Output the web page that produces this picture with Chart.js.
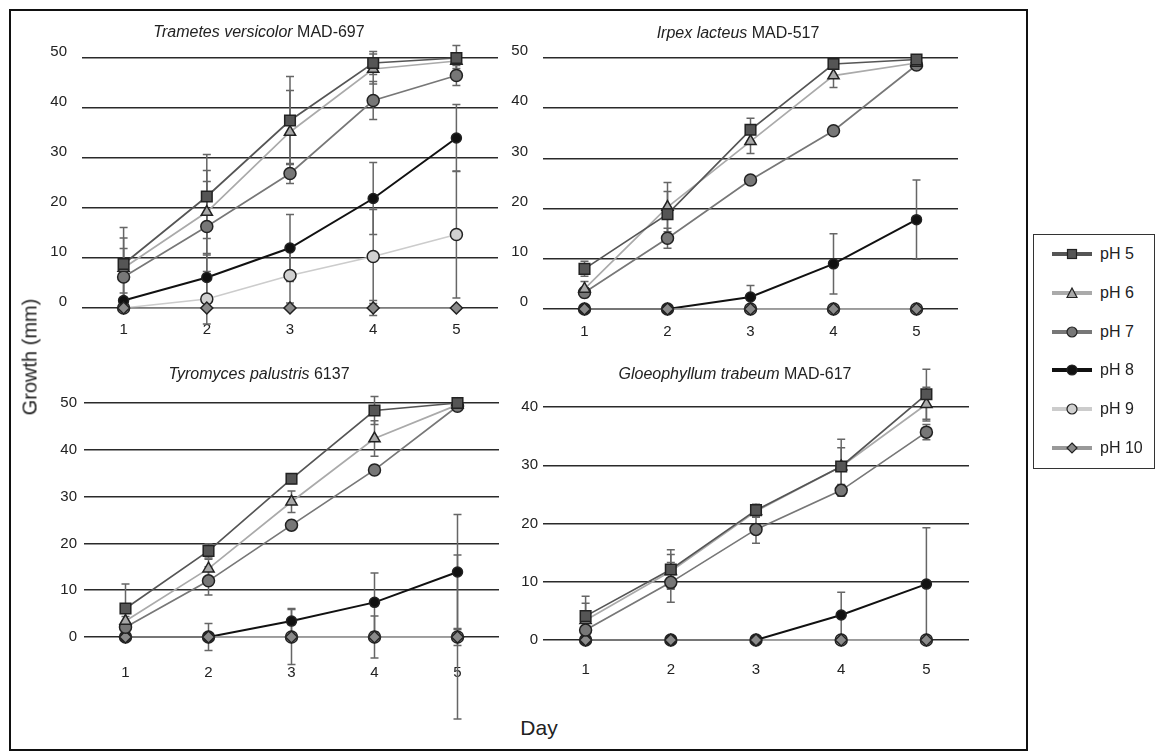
<!DOCTYPE html>
<html>
<head>
<meta charset="utf-8">
<script src="https://cdn.jsdelivr.net/npm/chart.js@4.4.0/dist/chart.umd.min.js"></script>
<style>
body { margin: 0; background: #fff; font-family: "Liberation Sans", Arial, sans-serif; color: #222; }
#page { position: relative; width: 1156px; height: 752px; overflow: hidden; }
#frame { position: absolute; left: 9px; top: 9px; width: 1019px; height: 742px; border: 2px solid #111; box-sizing: border-box; }
canvas { position: absolute; }
.ttl { position: absolute; font-size: 16px; white-space: nowrap; transform: translate(-50%, -50%); }
.axt { position: absolute; font-size: 20px; white-space: nowrap; transform: translate(-50%, -50%); }
#legend { position: absolute; left: 1033px; top: 234px; width: 122px; height: 235px; border: 1.5px solid #333; box-sizing: border-box; }
.li { position: absolute; left: 18px; height: 20px; display: flex; align-items: center; font-size: 16px; }
.li svg { margin-right: 8px; }
</style>
</head>
<body>
<div id="page">
  <div id="frame"></div>

  <canvas id="c1" width="490" height="335" style="left:10px;top:10px"></canvas>
  <canvas id="c2" width="460" height="336" style="left:500px;top:10px"></canvas>
  <canvas id="c3" width="490" height="392" style="left:10px;top:350px"></canvas>
  <canvas id="c4" width="470" height="340" style="left:500px;top:350px"></canvas>

  <div class="ttl" style="left:259px;top:32px"><i>Trametes versicolor</i> MAD-697</div>
  <div class="ttl" style="left:738px;top:33px"><i>Irpex lacteus</i> MAD-517</div>
  <div class="ttl" style="left:259px;top:374px"><i>Tyromyces palustris</i> 6137</div>
  <div class="ttl" style="left:735px;top:374px"><i>Gloeophyllum trabeum</i> MAD-617</div>

  <div class="axt" style="left:30px;top:357px;transform:translate(-50%,-50%) rotate(-90deg)">Growth (mm)</div>
  <div class="axt" style="left:539px;top:728px;font-size:21px">Day</div>

  <div id="legend"></div>
</div>

<script>
// days on the x axis
const days = ['1', '2', '3', '4', '5'];
const seriesNames = ['pH 5', 'pH 6', 'pH 7', 'pH 8', 'pH 9', 'pH 10'];

// mean growth (mm), one row per pH
const trametesMeans = [
  [8.8, 22.3, 37.5, 49, 50],
  [8, 19.2, 35.2, 47.8, 49.4],
  [6.2, 16.3, 26.9, 41.5, 46.5],
  [1.5, 6.1, 12, 21.9, 34],
  [0, 1.8, 6.5, 10.3, 14.7],
  [0, 0, 0, 0, 0]
];
const trametesErr = [
  [7.3, 8.4, 8.8, 2.3, 2.5],
  [6, 8.3, 8.3, 3, 1.5],
  [5.7, 9, 2, 3.8, 2],
  [1.5, 4.5, 6.7, 7.2, 6.7],
  [0, 5, 5.5, 9.4, 12.7],
  [0, 0, 0, 1.5, 0]
];

const irpexMeans = [
  [8, 18.9, 35.7, 48.8, 49.7],
  [4, 20.3, 33.4, 46.5, 49],
  [3.3, 14.1, 25.7, 35.5, 48.6],
  [0, 0, 2.4, 9, 17.8],
  [0, 0, 0, 0, 0],
  [0, 0, 0, 0, 0]
];
const irpexErr = [
  [1.5, 4.5, 2.3, 0.5, 0.3],
  [1.5, 4.9, 2.4, 2.4, 0.5],
  [1, 2, 0, 0, 0],
  [0, 0, 2.3, 6, 7.9],
  [0, 0, 0, 0, 0],
  [0, 0, 0, 0, 0]
];

const tyromycesMeans = [
  [6.1, 18.4, 33.8, 48.4, 50],
  [3.4, 14.6, 28.9, 42.4, 49.6],
  [2.1, 12, 23.9, 35.7, 49.3],
  [0, 0, 3.4, 7.4, 13.9],
  [0, 0, 0, 0, 0],
  [0, 0, 0, 0, 0]
];
const tyromycesErr = [
  [5.2, 1.5, 1, 3, 0.5],
  [1, 2, 2.3, 3.8, 0.5],
  [1, 3, 1, 1, 0.5],
  [0, 0, 2.7, 6.3, 12.3],
  [0, 2.9, 5.9, 4.5, 17.5],
  [0, 0, 0, 0, 1.8]
];

const gloeoMeans = [
  [4.1, 12.1, 22.3, 29.8, 42.2],
  [3.4, 11.8, 22.1, 29.8, 40.5],
  [1.7, 9.9, 19, 25.7, 35.7],
  [0, 0, 0, 4.3, 9.6],
  [0, 0, 0, 0, 0],
  [0, 0, 0, 0, 0]
];
const gloeoErr = [
  [3.4, 3.4, 1, 4.7, 4.3],
  [2.9, 2.9, 1, 3.2, 2.9],
  [1.5, 3.4, 2.4, 1, 1.3],
  [0, 0, 0, 3.9, 9.7],
  [0, 0, 0, 0, 0],
  [0, 0, 0, 0, 0]
];

// styles
const lineColors = ['#555555', '#aaaaaa', '#777777', '#111111', '#cccccc', '#999999'];
const fillColors = ['#555555', '#a8a8a8', '#777777', '#111111', '#d0d0d0', '#8a8a8a'];
const pointStyles = ['rect', 'triangle', 'circle', 'circle', 'circle', 'rectRot'];
const pointSizes = [7.5, 6.5, 6, 5, 6, 6];
const drawOrder = [0, 1, 2, 4, 5, 3];

Chart.defaults.font.family = '"Liberation Sans", Arial, sans-serif';
Chart.defaults.font.size = 15;
Chart.defaults.color = '#222';

const errorBars = {
  id: 'errorBars',
  beforeDatasetsDraw(chart) {
    const ctx = chart.ctx;
    const yScale = chart.scales.y;
    ctx.save();
    ctx.strokeStyle = '#666';
    ctx.lineWidth = 1.5;
    chart.data.datasets.forEach(function(ds, i) {
      const meta = chart.getDatasetMeta(i);
      ds.errors.forEach(function(e, j) {
        if (!e) return;
        const x = meta.data[j].x;
        const top = yScale.getPixelForValue(ds.data[j] + e);
        const bot = yScale.getPixelForValue(ds.data[j] - e);
        ctx.beginPath();
        ctx.moveTo(x, top); ctx.lineTo(x, bot);
        ctx.moveTo(x - 4, top); ctx.lineTo(x + 4, top);
        ctx.moveTo(x - 4, bot); ctx.lineTo(x + 4, bot);
        ctx.stroke();
      });
    });
    ctx.restore();
  }
};

function makeChart(id, means, errs, opt) {
  return new Chart(document.getElementById(id), {
    type: 'line',
    data: {
      labels: days,
      datasets: seriesNames.map(function(name, i) {
        return {
          label: name,
          data: means[i],
          errors: errs[i],
          borderColor: lineColors[i],
          backgroundColor: fillColors[i],
          pointBackgroundColor: fillColors[i],
          pointBorderColor: '#222',
          pointBorderWidth: 1.5,
          pointStyle: pointStyles[i],
          pointRadius: pointSizes[i],
          borderWidth: i === 3 ? 2 : 1.7,
          order: drawOrder[i],
          clip: false,
          tension: 0
        };
      })
    },
    options: {
      responsive: false,
      animation: false,
      devicePixelRatio: 1,
      layout: { autoPadding: false, padding: { top: opt.padTop, right: opt.padRight, left: 0, bottom: 0 } },
      plugins: { legend: { display: false }, tooltip: { enabled: false } },
      scales: {
        x: {
          type: 'category',
          offset: true,
          grid: { display: false, drawTicks: false },
          border: { display: false },
          ticks: { padding: opt.xPad, maxRotation: 0 },
          afterFit: function(s) { s.height = opt.xHeight; s.paddingLeft = 0; s.paddingRight = 0; }
        },
        y: {
          min: 0,
          max: opt.yMax,
          grid: { color: '#2a2a2a', lineWidth: 1.6, drawTicks: false },
          border: { display: false },
          ticks: { stepSize: 10, padding: opt.yPad, labelOffset: opt.yLabelOffset },
          afterBuildTicks: function(s) { s.ticks = s.ticks.filter(function(t) { return t.value % 10 === 0; }); },
          afterFit: function(s) { s.width = opt.yWidth; }
        }
      }
    },
    plugins: [errorBars]
  });
}

makeChart('c1', trametesMeans, trametesErr,
  { padTop: 48, padRight: 2, xHeight: 37, xPad: 13, yWidth: 72, yPad: 15, yLabelOffset: -6, yMax: 50 });
makeChart('c2', irpexMeans, irpexErr,
  { padTop: 48, padRight: 2, xHeight: 37, xPad: 14, yWidth: 43, yPad: 15, yLabelOffset: -7, yMax: 50 });
makeChart('c3', tyromycesMeans, tyromycesErr,
  { padTop: 53, padRight: 1, xHeight: 105, xPad: 27, yWidth: 74, yPad: 7, yLabelOffset: 0, yMax: 50 });
makeChart('c4', gloeoMeans, gloeoErr,
  { padTop: 28, padRight: 1, xHeight: 50, xPad: 21, yWidth: 43, yPad: 5, yLabelOffset: 0, yMax: 45 });

// legend, built from the same series arrays
function markerSvg(i) {
  const f = fillColors[i];
  let m = '';
  if (pointStyles[i] === 'rect') m = '<rect x="15.5" y="5.5" width="9" height="9" fill="' + f + '" stroke="#222" stroke-width="1.2"/>';
  else if (pointStyles[i] === 'triangle') m = '<polygon points="20,5 25,14.5 15,14.5" fill="' + f + '" stroke="#222" stroke-width="1.2"/>';
  else if (pointStyles[i] === 'rectRot') m = '<polygon points="20,5 25,10 20,15 15,10" fill="' + f + '" stroke="#222" stroke-width="1.2"/>';
  else m = '<circle cx="20" cy="10" r="5" fill="' + f + '" stroke="#222" stroke-width="1.2"/>';
  return '<svg width="40" height="20"><line x1="0" y1="10" x2="40" y2="10" stroke="' + lineColors[i] + '" stroke-width="4"/>' + m + '</svg>';
}
const legend = document.getElementById('legend');
seriesNames.forEach(function(name, i) {
  const d = document.createElement('div');
  d.className = 'li';
  d.style.top = (9 + i * 38.8) + 'px';
  d.innerHTML = markerSvg(i) + '<span>' + name + '</span>';
  legend.appendChild(d);
});
</script>
</body>
</html>
